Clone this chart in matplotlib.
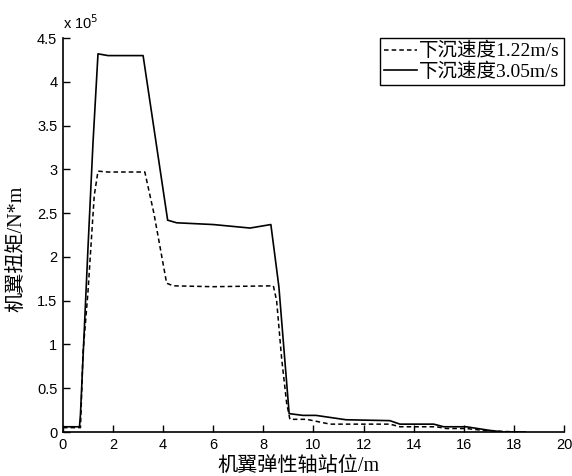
import numpy as np
import matplotlib
matplotlib.use('Agg')
import matplotlib.pyplot as plt

# torque values in units of 1e5 N*m
x_slow = [0, 0.7, 0.72, 0.8, 1.0, 1.25, 1.4, 1.8, 3.27, 3.4, 3.63, 4.14, 4.4, 6.0, 8.4,
          8.53, 8.73, 8.93, 9.06, 9.73, 10.66, 13.05, 13.45, 14.9, 15.3, 16.1, 16.9, 18.2]
y_slow = [0.05, 0.05, 0.2, 0.9, 1.6, 2.7, 2.98, 2.97, 2.97, 2.8, 2.5, 1.7, 1.67, 1.66, 1.67,
          1.5, 0.84, 0.33, 0.145, 0.145, 0.09, 0.09, 0.06, 0.06, 0.04, 0.04, 0.015, 0.0]

x_fast = [0, 0.66, 0.7, 1.0, 1.2, 1.4, 1.8, 3.2, 4.18, 4.54, 6.0, 7.47, 8.3, 8.62, 9.03,
          9.58, 10.1, 11.3, 13.05, 13.45, 14.8, 15.2, 16.1, 17.0, 17.6, 18.45]
y_fast = [0.06, 0.06, 0.2, 2.1, 3.3, 4.32, 4.30, 4.30, 2.42, 2.39, 2.37, 2.33, 2.37, 1.66, 0.21,
          0.19, 0.19, 0.14, 0.13, 0.09, 0.09, 0.06, 0.06, 0.02, 0.0, 0.0]

cjk = ['Liberation Serif', 'Noto Sans CJK SC']
plt.rcParams['font.family'] = ['Liberation Sans', 'Noto Sans CJK SC']

fig = plt.figure(figsize=(5.72, 4.76), dpi=100)
ax = fig.add_axes([0.110, 0.0924, 0.876, 0.8276])

ax.plot(x_slow, y_slow, color='black', linestyle=(0, (3, 2)), linewidth=1.1, label='下沉速度1.22m/s')
ax.plot(x_fast, y_fast, color='black', linestyle='-', linewidth=1.2, label='下沉速度3.05m/s')

ax.set_xlim(0, 20)
ax.set_ylim(0, 4.5)
ax.set_xticks(np.arange(0, 21, 2))
ax.set_yticks(np.arange(0, 4.6, 0.5))
ax.set_yticklabels(['0', '0.5', '1', '1.5', '2', '2.5', '3', '3.5', '4', '4.5'])
ax.tick_params(direction='in', length=5, labelsize=10.5, width=1, pad=4)
ax.spines['top'].set_visible(False)
ax.spines['right'].set_visible(False)
ax.spines['left'].set_linewidth(1.2)
ax.spines['bottom'].set_linewidth(1.2)

ax.text(0.0, 1.015, 'x 10$^5$', transform=ax.transAxes, fontsize=10.5, ha='left', va='bottom')

ax.set_xlabel('机翼弹性轴站位/m', fontsize=14.5, family=cjk)
ax.set_ylabel('机翼扭矩/N*m', fontsize=14.5, family=cjk)
ax.xaxis.set_label_coords(0.471, -0.062)
ax.yaxis.set_label_coords(-0.072, 0.464)

leg = ax.legend(loc='upper right', prop={'family': cjk, 'size': 14}, fancybox=False,
                edgecolor='black', framealpha=1, handlelength=1.7, handletextpad=0.1,
                borderpad=0.2, labelspacing=0.12, borderaxespad=0.0)
leg.get_frame().set_linewidth(1.0)

plt.savefig('out.png', dpi=100)
